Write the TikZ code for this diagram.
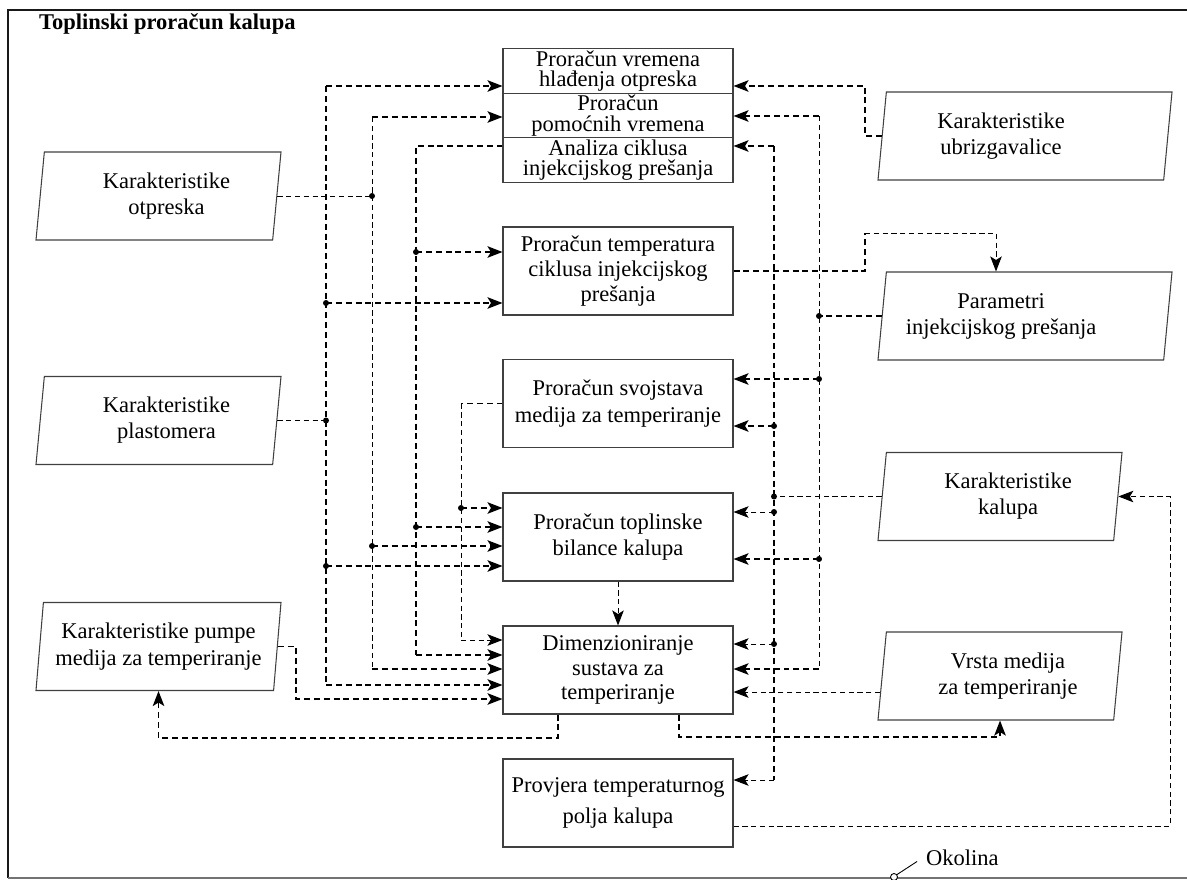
\documentclass[tikz,border=0pt]{standalone}
\usepackage{fontspec}
\setmainfont{Liberation Serif}
\usetikzlibrary{shapes.geometric,arrows.meta,positioning,calc}

% tekst pomaknut unutar paralelograma
\newcommand{\pomak}[2]{\hspace*{#1}\begin{tabular}{@{}c@{}}#2\end{tabular}}

\begin{document}
\begin{tikzpicture}[x=0.2mm, y=-0.2mm,
  proc/.style={rectangle, draw=black!75, line width=0.6pt, minimum width=46mm,
               minimum height=17.6mm, inner sep=0pt, align=center,
               font=\fontsize{12.8}{14}\selectfont},
  cell/.style={proc, minimum height=8.9mm, font=\fontsize{12.8}{11.6}\selectfont},
  data/.style={trapezium, trapezium left angle=81, trapezium right angle=99,
               trapezium stretches body, draw=black!75, line width=0.6pt,
               minimum height=17.6mm, inner sep=0pt, align=center,
               font=\fontsize{12.8}{15}\selectfont},
  arr/.style={-{Stealth[length=3mm, width=2.3mm, inset=0.7mm]}},
  bus/.style={line width=1.05pt, dash pattern=on 3.4pt off 2.2pt},
  tap/.style={line width=0.55pt, dash pattern=on 3pt off 2pt}
]
\useasboundingbox (0,0) rectangle (1187,879);

% okvir i naslov
\draw[line width=0.9pt, black!90] (1187,10) -- (8,10) -- (8,878);
\draw[line width=0.9pt, black!55] (8,878) -- (1187,878);
\node[anchor=west, font=\fontsize{12.8}{14}\selectfont\bfseries] (tit) at (33,24) {Toplinski proračun kalupa};

% proračunski blokovi
\node[cell] (hla) at (618,71)    {Proračun vremena\\hlađenja otpreska};
\node[cell] (pom) at (618,115.5) {Proračun\\pomoćnih vremena};
\node[cell] (ana) at (618,160)   {Analiza ciklusa\\injekcijskog prešanja};
\node[proc] (temp) at (618,271)  {Proračun temperatura\\ciklusa injekcijskog\\prešanja};
\node[proc, font=\fontsize{12.8}{15}\selectfont] (svoj) at (618,403.5) {Proračun svojstava\\medija za temperiranje};
\node[proc, font=\fontsize{12.8}{15}\selectfont] (bil) at (618,537) {Proračun toplinske\\bilance kalupa};
\node[proc] (dim) at (618,670)   {Dimenzioniranje\\sustava za\\temperiranje};
\node[proc, font=\fontsize{12.8}{17.5}\selectfont] (prov) at (618,803) {Provjera temperaturnog\\polja kalupa};

% ulazni podaci
\node[data, minimum width=49mm] (otp) at (158.5,196)   {\pomak{3.2mm}{Karakteristike\\otpreska}};
\node[data, minimum width=49mm] (pla) at (158.5,420.5) {\pomak{3.2mm}{Karakteristike\\plastomera}};
\node[data, minimum width=49mm] (pum) at (158.5,646.5) {Karakteristike pumpe\\medija za temperiranje};
\node[data, minimum width=58.8mm] (ubr) at (1025,136) {\pomak{-9.6mm}{Karakteristike\\ubrizgavalice}};
\node[data, minimum width=58.8mm] (par) at (1025,316) {\pomak{-9.6mm}{Parametri\\injekcijskog prešanja}};
\node[data, minimum width=48.8mm] (kal) at (1000,496.5) {\pomak{3.2mm}{Karakteristike\\kalupa}};
\node[data, minimum width=48.8mm] (vrs) at (1000,676)   {\pomak{3.2mm}{Vrsta medija\\za temperiranje}};

% sabirnice
\coordinate (xA) at (326,0);
\coordinate (xB) at (372,0);
\coordinate (xD) at (461,0);
\coordinate (xE) at (774,0);
\coordinate (xF) at (819,0);

\coordinate (a0) at (326,86);  \coordinate (a1) at (326,303);
\coordinate (a2) at (pla.east -| xA);
\coordinate (a3) at (326,566); \coordinate (a4) at (326,685);

\coordinate (b0) at (372,117);
\coordinate (b1) at (otp.east -| xB);
\coordinate (b2) at (372,546); \coordinate (b3) at (372,669);

\coordinate (c0) at (416,146); \coordinate (c1) at (416,252);
\coordinate (c2) at (416,527); \coordinate (c3) at (416,655);

\coordinate (d0) at (svoj.west -| xD);
\coordinate (d1) at (461,508); \coordinate (d2) at (461,640);

\coordinate (e0) at (774,146); \coordinate (e1) at (774,426);
\coordinate (e2) at (kal.west -| xE);
\coordinate (e3) at (774,512); \coordinate (e4) at (774,644);
\coordinate (e5) at (774,780);

\coordinate (f0) at (819,116);
\coordinate (f1) at (par.west -| xF);
\coordinate (f2) at (819,379); \coordinate (f3) at (819,559);
\coordinate (f4) at (819,669);

% lijeva strana
\draw[bus] (a0) -- (a4);
\draw[tap] (pla.east) -- (a2);
\draw[bus, arr] (a0) -- (hla.west |- a0);
\draw[bus, arr] (a1) -- (temp.west |- a1);
\draw[bus, arr] (a3) -- (bil.west |- a3);
\draw[bus, arr] (a4) -- (dim.west |- a4);

\draw[tap] (b0) -- (b3);
\draw[tap] (otp.east) -- (b1);
\draw[bus, arr] (b0) -- (pom.west |- b0);
\draw[bus, arr] (b2) -- (bil.west |- b2);
\draw[bus, arr] (b3) -- (dim.west |- b3);

\draw[bus] (ana.west |- c0) -- (c0) -- (c3);
\draw[bus, arr] (c1) -- (temp.west |- c1);
\draw[bus, arr] (c2) -- (bil.west |- c2);
\draw[bus, arr] (c3) -- (dim.west |- c3);

\draw[bus] (svoj.west) -- (d0);
\draw[tap] (d0) -- (d2);
\draw[bus, arr] (d1) -- (bil.west |- d1);
\draw[tap, arr] (d2) -- (dim.west |- d2);

% desna strana
\draw[bus] (e0) -- (e5);
\draw[tap] (kal.west) -- (e2);
\draw[bus, arr] (e0) -- (ana.east |- e0);
\draw[bus, arr] (e1) -- (svoj.east |- e1);
\draw[tap, arr] (e3) -- (bil.east |- e3);
\draw[tap, arr] (e4) -- (dim.east |- e4);
\draw[tap, arr] (e5) -- (prov.east |- e5);

\draw[tap] (f0) -- (f4);
\draw[bus] (par.west) -- (f1);
\draw[bus, arr] (f0) -- (pom.east |- f0);
\draw[bus, arr] (f2) -- (svoj.east |- f2);
\draw[bus, arr] (f3) -- (bil.east |- f3);
\draw[bus, arr] (f4) -- (dim.east |- f4);

\foreach \j in {a1,a2,a3,b1,b2,c1,c2,d1,e1,e2,e3,e4,f1,f2,f3}
  \fill (\j) circle[radius=0.6mm];

% ostale veze
\coordinate (ub) at (865,86);
\draw[bus, arr] (ubr.west) -| (ub) -- (hla.east |- ub);

\coordinate (tp) at (865,233);
\coordinate (tq) at (996,233);
\draw[bus] (temp.east) -| (tp);
\draw[tap, arr] (tp) -- (tq) -- (par.north -| tq);

\draw[tap, arr] (bil) -- (dim);

\coordinate (pp) at (296,699);
\draw[bus, arr] (pum.east) -| (pp) -- (dim.west |- pp);

\coordinate (dp) at (558,738);
\draw[bus, arr] (dim.south -| dp) -- (dp) -| (pum.south);

\coordinate (dv) at (679,737);
\draw[bus, arr] (dim.south -| dv) -- (dv) -| (vrs.south);

\coordinate (vd) at ($(vrs.bottom left corner)!0.32!(vrs.top left corner)$);
\draw[tap, arr] (vd) -- (dim.east |- vd);

\coordinate (pk) at (1170,826);
\draw[tap, arr] (prov.east |- pk) -- (pk) |- (kal.east);

% okolina
\node[anchor=west, font=\fontsize{12.8}{14}\selectfont] (oko) at (920,858) {Okolina};
\coordinate (okc) at (894,877);
\draw[line width=0.5pt] ([shift={(40:0.7mm)}]okc) -- ([xshift=-0.6mm, yshift=-0.7mm]oko.west);
\draw[line width=0.5pt, fill=white] (okc) circle[radius=0.7mm];

\end{tikzpicture}
\end{document}
